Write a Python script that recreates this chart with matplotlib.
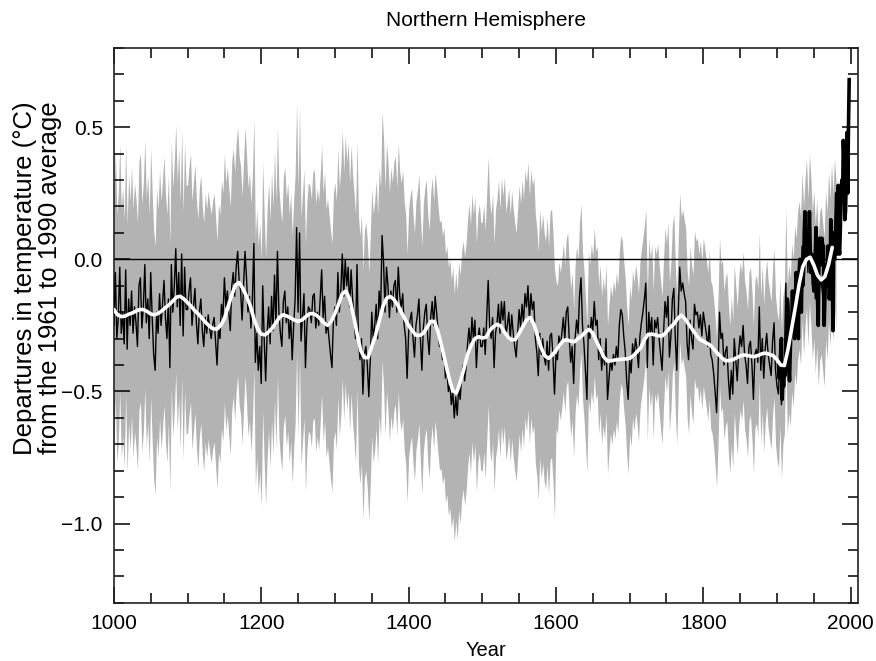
import numpy as np
import matplotlib
matplotlib.use("Agg")
import matplotlib.pyplot as plt
from matplotlib.ticker import MultipleLocator

# reconstruction, every 2nd year (1000..1980)
recon_1000s = [-0.25, -0.05, -0.30, -0.22, -0.03, -0.28, -0.20, -0.32, -0.04, -0.34,
               -0.15, -0.25, -0.12, -0.28, -0.18, -0.24, -0.33, -0.10, -0.07, -0.26,
               -0.18, -0.02, -0.24, -0.15, -0.30, -0.05, -0.22, -0.36, -0.42, -0.20,
               -0.28, -0.13, -0.25, -0.17, -0.08, -0.22, -0.30, -0.15, -0.41, -0.02,
               -0.20, -0.10, 0.04, -0.18, -0.05, -0.25, 0.02, -0.29, -0.03, -0.19]
recon_1100s = [-0.19, -0.12, -0.07, -0.25, -0.18, -0.11, -0.24, -0.32, -0.20, -0.15,
               -0.27, -0.33, -0.22, -0.28, -0.21, -0.26, -0.30, -0.25, -0.22, -0.31,
               -0.40, -0.26, -0.30, -0.17, -0.22, -0.07, -0.18, -0.12, -0.20, -0.27,
               -0.10, -0.05, -0.14, -0.03, 0.03, -0.08, -0.12, -0.23, -0.10, 0.03,
               -0.07, -0.20, -0.14, -0.26, -0.15, 0.06, -0.39, -0.28, -0.42, -0.33]
recon_1200s = [-0.47, -0.10, -0.30, -0.46, -0.28, -0.18, -0.32, -0.14, -0.27, -0.06,
               -0.25, 0.03, -0.20, -0.28, -0.33, -0.16, -0.12, -0.24, -0.18, -0.30,
               -0.22, -0.38, -0.25, -0.15, 0.12, -0.20, 0.10, -0.31, -0.22, -0.13,
               -0.41, -0.25, -0.18, -0.19, -0.24, -0.14, -0.13, -0.26, -0.20, -0.25,
               -0.15, -0.04, -0.22, -0.14, -0.28, -0.24, -0.30, -0.36, -0.41, -0.22]
recon_1300s = [-0.18, -0.25, -0.05, -0.20, -0.12, 0.02, -0.14, 0.00, -0.10, -0.03,
               -0.18, -0.04, -0.15, -0.22, -0.30, -0.02, -0.31, -0.38, -0.30, -0.51,
               -0.36, -0.33, -0.40, -0.52, -0.38, -0.20, -0.30, -0.25, -0.17, -0.30,
               -0.12, -0.20, 0.09, -0.01, -0.20, -0.03, -0.10, -0.22, -0.12, -0.18,
               -0.10, -0.08, -0.20, -0.03, -0.14, -0.18, -0.13, -0.25, -0.30, -0.45]
recon_1400s = [-0.28, -0.23, -0.20, -0.30, -0.37, -0.25, -0.21, -0.15, -0.30, -0.42,
               -0.26, -0.20, -0.17, -0.30, -0.36, -0.22, -0.16, -0.25, -0.14, -0.20,
               -0.27, -0.33, -0.32, -0.38, -0.35, -0.45, -0.42, -0.50, -0.47, -0.55,
               -0.50, -0.60, -0.52, -0.59, -0.48, -0.53, -0.44, -0.40, -0.46, -0.41,
               -0.32, -0.26, -0.34, -0.22, -0.30, -0.23, -0.41, -0.30, -0.26, -0.33]
recon_1500s = [-0.33, -0.26, -0.36, -0.22, -0.08, -0.25, -0.30, -0.22, -0.41, -0.28,
               -0.24, -0.17, -0.28, -0.16, -0.23, -0.16, -0.29, -0.25, -0.20, -0.30,
               -0.21, -0.28, -0.33, -0.37, -0.28, -0.19, -0.26, -0.17, -0.24, -0.13,
               -0.18, -0.10, -0.23, -0.13, -0.19, -0.16, -0.30, -0.35, -0.44, -0.28,
               -0.36, -0.30, -0.37, -0.40, -0.31, -0.42, -0.29, -0.28, -0.37, -0.51]
recon_1600s = [-0.36, -0.38, -0.29, -0.33, -0.28, -0.22, -0.30, -0.20, -0.18, -0.30,
               -0.39, -0.33, -0.47, -0.30, -0.23, -0.28, -0.14, -0.07, -0.25, -0.32,
               -0.42, -0.53, -0.25, -0.30, -0.22, -0.27, -0.16, -0.25, -0.23, -0.38,
               -0.30, -0.42, -0.35, -0.40, -0.30, -0.53, -0.45, -0.38, -0.42, -0.36,
               -0.40, -0.33, -0.38, -0.25, -0.19, -0.21, -0.29, -0.35, -0.46, -0.53]
recon_1700s = [-0.38, -0.43, -0.32, -0.37, -0.30, -0.34, -0.41, -0.29, -0.24, -0.20,
               -0.15, -0.09, -0.41, -0.20, -0.28, -0.22, -0.40, -0.23, -0.26, -0.22,
               -0.30, -0.36, -0.42, -0.28, -0.16, -0.22, -0.14, -0.37, -0.29, -0.15,
               -0.11, -0.30, -0.42, -0.20, -0.03, -0.12, -0.09, -0.13, -0.16, -0.32,
               -0.38, -0.23, -0.30, -0.34, -0.17, -0.21, -0.20, -0.26, -0.21, -0.29]
recon_1800s = [-0.20, -0.24, -0.28, -0.33, -0.25, -0.36, -0.38, -0.43, -0.50, -0.58,
               -0.42, -0.20, -0.30, -0.28, -0.40, -0.35, -0.33, -0.45, -0.53, -0.42,
               -0.51, -0.30, -0.38, -0.46, -0.35, -0.29, -0.33, -0.25, -0.36, -0.40,
               -0.47, -0.33, -0.31, -0.40, -0.53, -0.36, -0.34, -0.39, -0.18, -0.42,
               -0.30, -0.45, -0.34, -0.28, -0.36, -0.40, -0.44, -0.31, -0.24, -0.42]
recon_1900s = [-0.48, -0.51, -0.35, -0.55, -0.42, -0.38, -0.09, -0.38, -0.30, -0.35,
               -0.22, -0.28, -0.15, -0.20, -0.10, -0.06, -0.12, 0.05, -0.08, 0.02,
               0.10, -0.05, 0.12, 0.03, -0.10, -0.02, -0.15, -0.05, -0.20, -0.10,
               -0.08, -0.14, -0.20, -0.02, -0.10, 0.05, -0.05, 0.08, -0.03, 0.10, 0.02]

# 2-sigma half width of the grey band
band_hw_before_1600 = 0.47
band_hw_after_1600 = 0.28

# 40-year smoothed curve, every 5th year (1000..1975)
smooth_1000_1495 = [-0.19, -0.21, -0.217, -0.215, -0.208, -0.203, -0.196, -0.19, -0.19, -0.197,
                    -0.207, -0.21, -0.205, -0.195, -0.183, -0.172, -0.158, -0.143, -0.14, -0.15,
                    -0.164, -0.178, -0.195, -0.208, -0.224, -0.24, -0.254, -0.263, -0.264, -0.25,
                    -0.225, -0.18, -0.135, -0.097, -0.088, -0.11, -0.14, -0.175, -0.225, -0.262,
                    -0.283, -0.286, -0.275, -0.26, -0.24, -0.218, -0.21, -0.215, -0.222, -0.23,
                    -0.235, -0.23, -0.218, -0.207, -0.205, -0.212, -0.225, -0.24, -0.25, -0.235,
                    -0.205, -0.17, -0.13, -0.12, -0.15, -0.21, -0.28, -0.345, -0.372, -0.372,
                    -0.33, -0.29, -0.235, -0.18, -0.148, -0.14, -0.152, -0.172, -0.2, -0.225,
                    -0.25, -0.27, -0.287, -0.288, -0.28, -0.258, -0.235, -0.235, -0.275, -0.33,
                    -0.39, -0.45, -0.498, -0.505, -0.465, -0.415, -0.36, -0.325, -0.3, -0.293]
smooth_1500_1975 = [-0.298, -0.295, -0.27, -0.255, -0.246, -0.252, -0.275, -0.295, -0.305, -0.303,
                    -0.28, -0.255, -0.23, -0.22, -0.245, -0.29, -0.335, -0.365, -0.375, -0.362,
                    -0.345, -0.325, -0.307, -0.305, -0.31, -0.312, -0.3, -0.29, -0.275, -0.265,
                    -0.28, -0.31, -0.34, -0.37, -0.385, -0.384, -0.381, -0.379, -0.378, -0.377,
                    -0.375, -0.365, -0.35, -0.335, -0.305, -0.284, -0.283, -0.286, -0.29, -0.289,
                    -0.275, -0.258, -0.245, -0.225, -0.211, -0.225, -0.245, -0.265, -0.285, -0.303,
                    -0.31, -0.318, -0.326, -0.342, -0.358, -0.372, -0.384, -0.383, -0.38, -0.373,
                    -0.366, -0.362, -0.364, -0.367, -0.368, -0.363, -0.357, -0.355, -0.36, -0.365,
                    -0.38, -0.4, -0.402, -0.34, -0.26, -0.18, -0.095, -0.028, 0.0, 0.008,
                    -0.022, -0.06, -0.078, -0.065, -0.02, 0.045]

# instrumental record, annual 1902..1998
instr_1902_1919 = [-0.40, -0.45, -0.42, -0.35, -0.30, -0.53, -0.45, -0.48, -0.42, -0.44,
                   -0.40, -0.38, -0.15, -0.18, -0.40, -0.46, -0.35, -0.25]
instr_1920s = [-0.25, -0.12, -0.25, -0.22, -0.30, -0.15, -0.05, -0.12, -0.10, -0.30]
instr_1930s = [-0.05, 0.00, -0.05, -0.20, -0.05, -0.10, -0.05, 0.10, 0.18, 0.05]
instr_1940s = [0.00, 0.05, 0.02, 0.05, 0.18, 0.05, -0.05, 0.02, -0.02, -0.05]
instr_1950s = [-0.12, 0.00, 0.02, 0.12, -0.10, -0.15, -0.25, 0.02, 0.08, 0.05]
instr_1960s = [-0.02, 0.08, 0.05, 0.05, -0.25, -0.15, -0.08, -0.02, -0.10, 0.05]
instr_1970s = [-0.02, -0.15, -0.10, 0.15, -0.15, -0.05, -0.27, 0.10, 0.00, 0.05]
instr_1980s = [0.15, 0.25, 0.02, 0.28, 0.05, 0.02, 0.12, 0.25, 0.30, 0.22]
instr_1990s = [0.45, 0.38, 0.15, 0.18, 0.30, 0.48, 0.25, 0.50, 0.68]

recon = np.array(recon_1000s + recon_1100s + recon_1200s + recon_1300s + recon_1400s
                 + recon_1500s + recon_1600s + recon_1700s + recon_1800s + recon_1900s)
recon_years = np.arange(1000, 1000 + 2 * len(recon), 2)
hw = np.where(recon_years < 1600, band_hw_before_1600, band_hw_after_1600)

smooth = np.array(smooth_1000_1495 + smooth_1500_1975)
smooth_years = np.arange(1000, 1000 + 5 * len(smooth), 5)

instr = np.array(instr_1902_1919 + instr_1920s + instr_1930s + instr_1940s + instr_1950s
                 + instr_1960s + instr_1970s + instr_1980s + instr_1990s)
instr_years = np.arange(1902, 1902 + len(instr))

plt.rcParams['font.family'] = ['Liberation Sans', 'DejaVu Sans']

fig = plt.figure(figsize=(8.76, 6.61), dpi=100)
ax = fig.add_axes([0.130, 0.088, 0.8495, 0.8395])

ax.fill_between(recon_years, recon - hw, recon + hw, color='#b3b3b3', lw=0, zorder=1)
ax.axhline(0.0, color='black', lw=1.0, zorder=2)
ax.plot(recon_years, recon, color='black', lw=1.0, zorder=3)
ax.plot(instr_years, instr, color='black', lw=2.6, zorder=4)
ax.plot(smooth_years, smooth, color='white', lw=2.6, zorder=5, solid_capstyle='round')

ax.set_xlim(1000, 2010)
ax.set_ylim(-1.3, 0.8)
ax.xaxis.set_major_locator(MultipleLocator(200))
ax.xaxis.set_minor_locator(MultipleLocator(50))
ax.yaxis.set_major_locator(MultipleLocator(0.5))
ax.yaxis.set_minor_locator(MultipleLocator(0.1))
ax.yaxis.set_major_formatter(plt.FuncFormatter(lambda v, p: f"{v:.1f}".replace('-', '\u2212')))
ax.tick_params(which='both', direction='in', top=True, right=True, width=1.1,
               labelsize=15, pad=8)
ax.tick_params(which='major', length=11.5)
ax.tick_params(which='minor', length=7.5)
for s in ax.spines.values():
    s.set_linewidth(1.2)
    s.set_color('#222222')

ax.set_title('Northern Hemisphere', fontsize=15, pad=16)
ax.set_xlabel('Year', fontsize=14.5, labelpad=5.5)
fig.text(37.5 / 876, 1 - 278 / 661,
         'Departures in temperature (\u00b0C)\nfrom the 1961 to 1990 average',
         rotation=90, ha='center', va='center', multialignment='center',
         fontsize=18.5, linespacing=1.05)

fig.savefig('out.png', dpi=100)
